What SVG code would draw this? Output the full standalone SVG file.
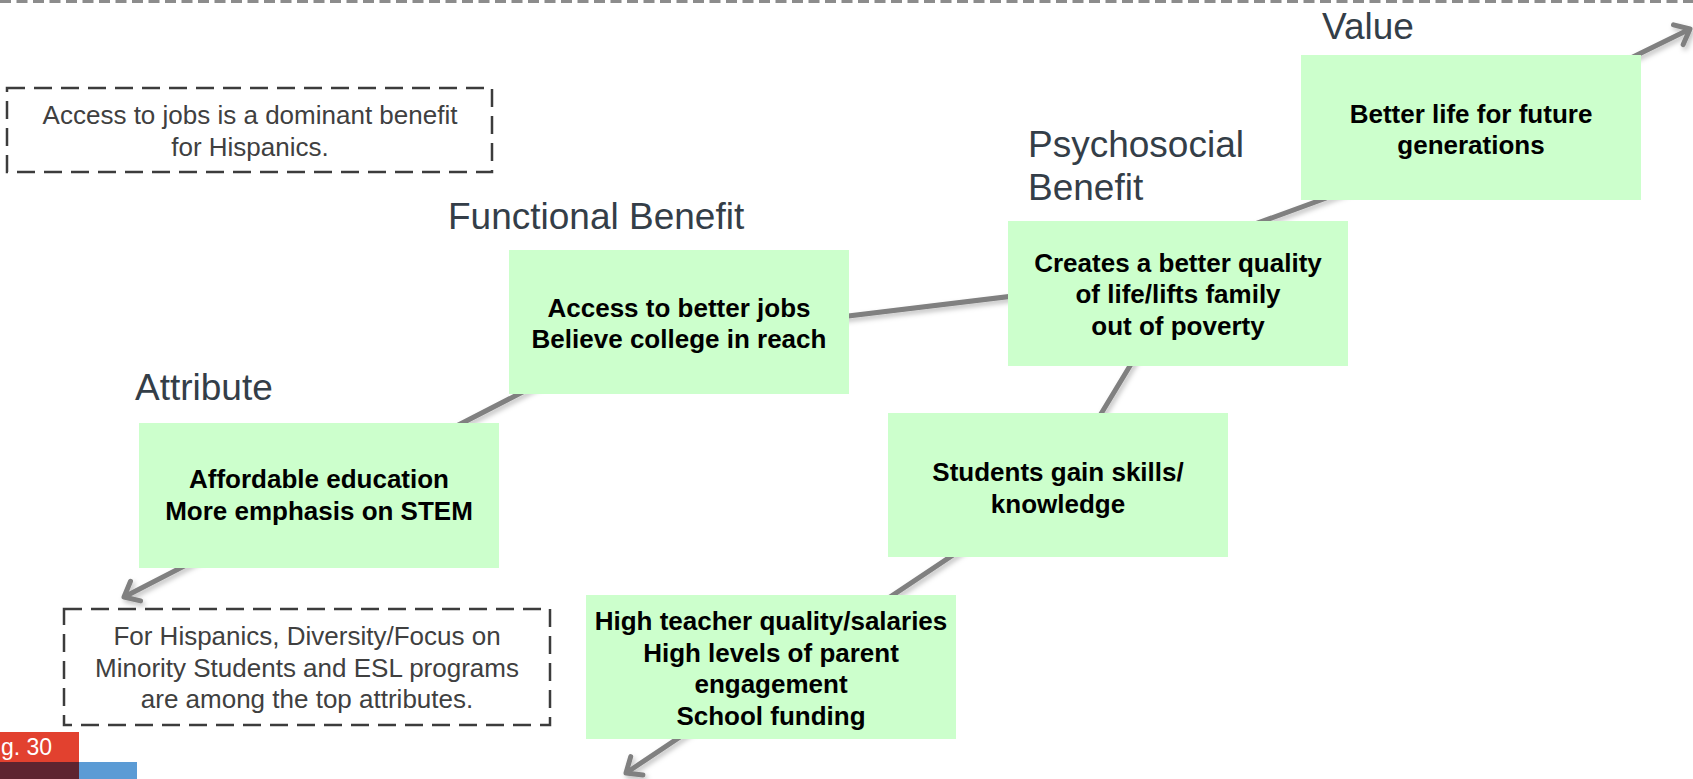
<svg xmlns="http://www.w3.org/2000/svg" width="1693" height="779" viewBox="0 0 1693 779">
<style>
.box{fill:#ccffcc}
.bt{font-family:"Liberation Sans",Arial,sans-serif;font-weight:bold;font-size:26px;fill:#000;text-anchor:middle}
.lbl{font-family:"Liberation Sans",Arial,sans-serif;font-size:37px;fill:#343e48}
.note{fill:none;stroke:#3c3c3c;stroke-width:2.5;stroke-dasharray:18 9}
.nt{font-family:"Liberation Sans",Arial,sans-serif;font-size:26px;fill:#404040;text-anchor:middle}
.conn{fill:none;stroke:#808080;stroke-width:5;stroke-linejoin:round}
</style>
<defs>
<marker id="arr" viewBox="-20 -15 25 30" refX="0" refY="0" markerUnits="userSpaceOnUse" markerWidth="25" markerHeight="30" orient="auto-start-reverse" overflow="visible">
<path d="M-13,-11 L0,0 L-13,11" fill="none" stroke="#808080" stroke-width="5" stroke-linecap="round" stroke-linejoin="round"/>
</marker>
<filter id="sh" x="-10%" y="-10%" width="120%" height="120%">
<feDropShadow dx="2" dy="3" stdDeviation="2.5" flood-color="#000" flood-opacity="0.25"/>
</filter>
</defs>
<rect width="1693" height="779" fill="#fff"/>
<line x1="0" y1="1.5" x2="1693" y2="1.5" stroke="#8c8c8c" stroke-width="3" stroke-dasharray="11 5.5"/>

<g id="connectors" filter="url(#sh)">
<polyline class="conn" points="124,597 616,344 1080,288 1400,171 1690,29" marker-start="url(#arr)" marker-end="url(#arr)"/>
<polyline class="conn" points="1174,293 1058,485 626,773" marker-end="url(#arr)"/>
</g>

<g id="note-benefit">
<rect class="note" x="7" y="88" width="485" height="84"/>
<text class="nt" x="250" y="124">Access to jobs is a dominant benefit</text>
<text class="nt" x="250" y="156">for Hispanics.</text>
</g>

<g id="note-attribute">
<rect class="note" x="64" y="609" width="486" height="116"/>
<text class="nt" x="307" y="645">For Hispanics, Diversity/Focus on</text>
<text class="nt" x="307" y="677">Minority Students and ESL programs</text>
<text class="nt" x="307" y="708">are among the top attributes.</text>
</g>

<g id="label-value"><text class="lbl" x="1322" y="39">Value</text></g>
<g id="label-psychosocial"><text class="lbl" x="1028" y="157">Psychosocial</text><text class="lbl" x="1028" y="200">Benefit</text></g>
<g id="label-functional"><text class="lbl" x="448" y="229">Functional Benefit</text></g>
<g id="label-attribute"><text class="lbl" x="135" y="400">Attribute</text></g>

<g id="node-value">
<rect class="box" x="1301" y="55" width="340" height="145"/>
<text class="bt" x="1471" y="123">Better life for future</text>
<text class="bt" x="1471" y="154">generations</text>
</g>

<g id="node-psychosocial">
<rect class="box" x="1008" y="221" width="340" height="145"/>
<text class="bt" x="1178" y="272">Creates a better quality</text>
<text class="bt" x="1178" y="303">of life/lifts family</text>
<text class="bt" x="1178" y="335">out of poverty</text>
</g>

<g id="node-functional">
<rect class="box" x="509" y="250" width="340" height="144"/>
<text class="bt" x="679" y="317">Access to better jobs</text>
<text class="bt" x="679" y="348">Believe college in reach</text>
</g>

<g id="node-attribute">
<rect class="box" x="139" y="423" width="360" height="145"/>
<text class="bt" x="319" y="488">Affordable education</text>
<text class="bt" x="319" y="520">More emphasis on STEM</text>
</g>

<g id="node-students">
<rect class="box" x="888" y="413" width="340" height="144"/>
<text class="bt" x="1058" y="481">Students gain skills/</text>
<text class="bt" x="1058" y="513">knowledge</text>
</g>

<g id="node-teacher">
<rect class="box" x="586" y="595" width="370" height="144"/>
<text class="bt" x="771" y="630">High teacher quality/salaries</text>
<text class="bt" x="771" y="662">High levels of parent</text>
<text class="bt" x="771" y="693">engagement</text>
<text class="bt" x="771" y="725">School funding</text>
</g>

<g id="page-tag">
<rect x="0" y="732" width="79" height="30" fill="#e2412f"/>
<rect x="0" y="762" width="79" height="17" fill="#5e2430"/>
<rect x="79" y="762" width="58" height="17" fill="#5b9bd5"/>
<text x="1" y="755" font-family="Liberation Sans, Arial, sans-serif" font-size="23" fill="#fff">g. 30</text>
</g>
</svg>
